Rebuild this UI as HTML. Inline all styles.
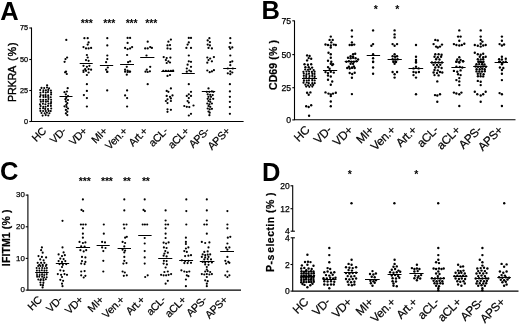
<!DOCTYPE html>
<html><head><meta charset="utf-8"><title>Figure</title>
<style>
html,body{margin:0;padding:0;background:#fff;}
body{width:520px;height:325px;overflow:hidden;}
svg{display:block;font-family:"Liberation Sans",sans-serif;fill:#000;filter:blur(0.35px);}
.pl{font-size:25.5px;font-weight:bold;}
.yl{font-size:10.8px;text-anchor:middle;letter-spacing:0.2px;stroke:#000;stroke-width:0.4;}
.yb{font-size:10.5px;font-weight:bold;text-anchor:middle;letter-spacing:0.12px;stroke:#000;stroke-width:0.2;}
.tk{font-size:8.5px;text-anchor:end;stroke:#000;stroke-width:0.25;}
.xl{font-size:11.8px;text-anchor:end;letter-spacing:-0.3px;stroke:#000;stroke-width:0.2;}
.st{font-size:10.5px;font-weight:bold;text-anchor:middle;letter-spacing:-0.2px;}
.ax{stroke:#000;stroke-width:1.1;fill:none;}
.md{stroke:#000;stroke-width:1;}
circle{fill:#000;}
</style></head><body>
<svg width="520" height="325" viewBox="0 0 520 325">
<rect x="0" y="0" width="520" height="325" fill="#fff"/>

<g>
<text class="pl" x="0.3" y="19.5">A</text>
<text class="yl" style="" transform="translate(15.9 71.7) rotate(-90)"><tspan style="letter-spacing:-0.25px">PRKRA</tspan><tspan dx="1.2" style="letter-spacing:0.9px"> (%)</tspan></text>
<path class="ax" d="M31.5 27.5V121.5H243.6"/>
<path class="ax" d="M29.3 28H31.5"/>
<text class="tk" style="font-size:7.3px" x="28.0" y="30.4">75</text>
<path class="ax" d="M29.3 59.5H31.5"/>
<text class="tk" style="font-size:7.3px" x="28.0" y="61.9">50</text>
<path class="ax" d="M29.3 90.5H31.5"/>
<text class="tk" style="font-size:7.3px" x="28.0" y="92.9">25</text>
<path class="ax" d="M29.3 121.5H31.5"/>
<text class="tk" style="font-size:7.3px" x="28.0" y="123.9">0</text>
<text class="xl" style="font-size:10.7px" transform="translate(46.7 131.8) rotate(-45)">HC</text>
<text class="xl" style="font-size:10.7px" transform="translate(66.7 131.8) rotate(-45)">VD-</text>
<text class="xl" style="font-size:10.7px" transform="translate(87.7 131.8) rotate(-45)">VD+</text>
<text class="xl" style="font-size:10.7px" transform="translate(107.9 131.8) rotate(-45)">MI+</text>
<text class="xl" style="font-size:10.7px" transform="translate(128.0 131.8) rotate(-45)">Ven.+</text>
<text class="xl" style="font-size:10.7px" transform="translate(148.2 131.8) rotate(-45)">Art.+</text>
<text class="xl" style="font-size:10.7px" transform="translate(168.5 131.8) rotate(-45)">aCL-</text>
<text class="xl" style="font-size:10.7px" transform="translate(189.7 131.8) rotate(-45)">aCL+</text>
<text class="xl" style="font-size:10.7px" transform="translate(210.0 131.8) rotate(-45)">APS-</text>
<text class="xl" style="font-size:10.7px" transform="translate(230.7 131.8) rotate(-45)">APS+</text>
<text class="st" x="86.7" y="27.3">***</text>
<text class="st" x="109.2" y="27.3">***</text>
<text class="st" x="131.5" y="27.3">***</text>
<text class="st" x="151.2" y="27.3">***</text>
<path class="md" d="M79.7 63.5H92.7"/>
<path class="md" d="M99.9 65.5H113.2"/>
<path class="md" d="M120.1 64.5H134.0"/>
<path class="md" d="M140.2 57.5H154.4"/>
<path class="md" d="M161.3 71.5H174.2"/>
<path class="md" d="M181.8 73.5H194.8"/>
<path class="md" d="M201.8 91.5H215.2"/>
<path class="md" d="M223.2 68.5H236.1"/>
<path class="md" d="M59.5 96.5H72.5"/>
<circle cx="47.1" cy="85.3" r="1.12"/><circle cx="67.7" cy="88.2" r="1.12"/><circle cx="66.9" cy="91.5" r="1.12"/><circle cx="64.5" cy="92.2" r="1.12"/><circle cx="65.9" cy="94.3" r="1.12"/><circle cx="68.0" cy="96.1" r="1.12"/><circle cx="66.3" cy="97.8" r="1.12"/><circle cx="65.4" cy="99.2" r="1.12"/><circle cx="68.0" cy="100.0" r="1.12"/><circle cx="65.9" cy="101.4" r="1.12"/><circle cx="67.3" cy="103.2" r="1.12"/><circle cx="66.3" cy="104.9" r="1.12"/><circle cx="64.5" cy="106.3" r="1.12"/><circle cx="66.6" cy="107.0" r="1.12"/><circle cx="68.0" cy="108.5" r="1.12"/><circle cx="65.9" cy="109.9" r="1.12"/><circle cx="67.3" cy="111.7" r="1.12"/><circle cx="65.9" cy="113.4" r="1.12"/><circle cx="67.3" cy="115.1" r="1.12"/><circle cx="66.3" cy="39.9" r="1.12"/><circle cx="67.1" cy="57.5" r="1.12"/><circle cx="65.5" cy="59.1" r="1.12"/><circle cx="64.6" cy="61.8" r="1.12"/><circle cx="66.0" cy="71.7" r="1.12"/><circle cx="65.1" cy="72.3" r="1.12"/><circle cx="66.8" cy="74.0" r="1.12"/><circle cx="84.4" cy="38.2" r="1.12"/><circle cx="87.7" cy="38.2" r="1.12"/><circle cx="88.6" cy="42.4" r="1.12"/><circle cx="87.7" cy="44.6" r="1.12"/><circle cx="83.5" cy="47.1" r="1.12"/><circle cx="86.0" cy="48.4" r="1.12"/><circle cx="88.6" cy="48.4" r="1.12"/><circle cx="91.1" cy="47.9" r="1.12"/><circle cx="86.9" cy="55.0" r="1.12"/><circle cx="87.7" cy="57.5" r="1.12"/><circle cx="86.0" cy="60.1" r="1.12"/><circle cx="88.6" cy="60.8" r="1.12"/><circle cx="83.5" cy="65.8" r="1.12"/><circle cx="86.9" cy="66.8" r="1.12"/><circle cx="89.4" cy="65.8" r="1.12"/><circle cx="85.2" cy="69.2" r="1.12"/><circle cx="88.6" cy="69.2" r="1.12"/><circle cx="91.1" cy="69.7" r="1.12"/><circle cx="83.5" cy="70.5" r="1.12"/><circle cx="83.5" cy="72.0" r="1.12"/><circle cx="86.0" cy="70.8" r="1.12"/><circle cx="88.6" cy="72.5" r="1.12"/><circle cx="86.9" cy="75.0" r="1.12"/><circle cx="86.9" cy="84.2" r="1.12"/><circle cx="86.9" cy="90.9" r="1.12"/><circle cx="83.9" cy="95.1" r="1.12"/><circle cx="86.9" cy="98.1" r="1.12"/><circle cx="86.9" cy="106.5" r="1.12"/><circle cx="107.3" cy="38.2" r="1.12"/><circle cx="107.3" cy="45.4" r="1.12"/><circle cx="107.3" cy="55.5" r="1.12"/><circle cx="107.3" cy="59.1" r="1.12"/><circle cx="106.1" cy="62.2" r="1.12"/><circle cx="107.8" cy="67.5" r="1.12"/><circle cx="106.1" cy="69.7" r="1.12"/><circle cx="107.3" cy="71.7" r="1.12"/><circle cx="107.2" cy="72.0" r="1.12"/><circle cx="107.2" cy="90.4" r="1.12"/><circle cx="127.6" cy="37.9" r="1.12"/><circle cx="130.1" cy="37.9" r="1.12"/><circle cx="127.6" cy="42.9" r="1.12"/><circle cx="125.1" cy="47.9" r="1.12"/><circle cx="127.6" cy="49.1" r="1.12"/><circle cx="130.1" cy="48.4" r="1.12"/><circle cx="132.1" cy="47.1" r="1.12"/><circle cx="127.1" cy="55.0" r="1.12"/><circle cx="130.1" cy="61.3" r="1.12"/><circle cx="128.1" cy="62.2" r="1.12"/><circle cx="126.8" cy="66.8" r="1.12"/><circle cx="125.1" cy="69.7" r="1.12"/><circle cx="127.6" cy="70.5" r="1.12"/><circle cx="129.3" cy="71.7" r="1.12"/><circle cx="125.1" cy="71.7" r="1.12"/><circle cx="127.6" cy="72.0" r="1.12"/><circle cx="130.1" cy="71.7" r="1.12"/><circle cx="126.8" cy="74.7" r="1.12"/><circle cx="127.1" cy="90.4" r="1.12"/><circle cx="125.1" cy="95.4" r="1.12"/><circle cx="127.1" cy="98.1" r="1.12"/><circle cx="127.1" cy="106.5" r="1.12"/><circle cx="147.7" cy="41.7" r="1.12"/><circle cx="150.2" cy="47.1" r="1.12"/><circle cx="147.7" cy="48.4" r="1.12"/><circle cx="145.2" cy="48.4" r="1.12"/><circle cx="151.9" cy="47.9" r="1.12"/><circle cx="146.5" cy="55.5" r="1.12"/><circle cx="150.2" cy="66.8" r="1.12"/><circle cx="146.8" cy="69.7" r="1.12"/><circle cx="145.5" cy="71.7" r="1.12"/><circle cx="147.7" cy="72.0" r="1.12"/><circle cx="149.9" cy="71.3" r="1.12"/><circle cx="147.7" cy="84.2" r="1.12"/><circle cx="170.9" cy="39.6" r="1.12"/><circle cx="168.4" cy="41.7" r="1.12"/><circle cx="167.5" cy="45.4" r="1.12"/><circle cx="170.0" cy="45.1" r="1.12"/><circle cx="167.5" cy="48.4" r="1.12"/><circle cx="170.4" cy="48.8" r="1.12"/><circle cx="163.7" cy="57.1" r="1.12"/><circle cx="166.7" cy="58.0" r="1.12"/><circle cx="170.4" cy="57.6" r="1.12"/><circle cx="165.9" cy="60.1" r="1.12"/><circle cx="168.4" cy="61.3" r="1.12"/><circle cx="166.7" cy="63.0" r="1.12"/><circle cx="170.0" cy="62.5" r="1.12"/><circle cx="163.3" cy="70.9" r="1.12"/><circle cx="165.9" cy="70.9" r="1.12"/><circle cx="168.4" cy="70.9" r="1.12"/><circle cx="170.9" cy="70.9" r="1.12"/><circle cx="173.1" cy="70.5" r="1.12"/><circle cx="167.5" cy="75.9" r="1.12"/><circle cx="170.0" cy="75.0" r="1.12"/><circle cx="170.9" cy="88.4" r="1.12"/><circle cx="166.7" cy="90.9" r="1.12"/><circle cx="168.4" cy="91.8" r="1.12"/><circle cx="166.7" cy="95.9" r="1.12"/><circle cx="170.0" cy="96.8" r="1.12"/><circle cx="172.5" cy="95.4" r="1.12"/><circle cx="167.5" cy="99.3" r="1.12"/><circle cx="170.9" cy="98.4" r="1.12"/><circle cx="165.9" cy="101.0" r="1.12"/><circle cx="170.9" cy="101.0" r="1.12"/><circle cx="167.5" cy="103.1" r="1.12"/><circle cx="167.5" cy="109.3" r="1.12"/><circle cx="170.9" cy="109.8" r="1.12"/><circle cx="167.5" cy="111.8" r="1.12"/><circle cx="188.8" cy="37.9" r="1.12"/><circle cx="191.0" cy="37.9" r="1.12"/><circle cx="188.8" cy="42.4" r="1.12"/><circle cx="187.6" cy="44.6" r="1.12"/><circle cx="186.4" cy="47.9" r="1.12"/><circle cx="191.0" cy="47.9" r="1.12"/><circle cx="188.8" cy="55.5" r="1.12"/><circle cx="188.8" cy="61.3" r="1.12"/><circle cx="191.0" cy="61.8" r="1.12"/><circle cx="187.6" cy="64.7" r="1.12"/><circle cx="191.0" cy="66.8" r="1.12"/><circle cx="186.8" cy="68.5" r="1.12"/><circle cx="189.3" cy="70.5" r="1.12"/><circle cx="186.8" cy="71.7" r="1.12"/><circle cx="191.0" cy="71.3" r="1.12"/><circle cx="188.8" cy="84.2" r="1.12"/><circle cx="191.0" cy="91.8" r="1.12"/><circle cx="188.8" cy="94.3" r="1.12"/><circle cx="186.8" cy="95.9" r="1.12"/><circle cx="191.0" cy="95.9" r="1.12"/><circle cx="188.8" cy="98.1" r="1.12"/><circle cx="187.6" cy="101.0" r="1.12"/><circle cx="188.8" cy="102.6" r="1.12"/><circle cx="184.3" cy="106.0" r="1.12"/><circle cx="186.8" cy="106.8" r="1.12"/><circle cx="189.3" cy="107.1" r="1.12"/><circle cx="193.5" cy="105.5" r="1.12"/><circle cx="191.0" cy="113.8" r="1.12"/><circle cx="188.8" cy="115.5" r="1.12"/><circle cx="209.4" cy="38.2" r="1.12"/><circle cx="207.7" cy="40.4" r="1.12"/><circle cx="209.9" cy="42.1" r="1.12"/><circle cx="207.7" cy="44.6" r="1.12"/><circle cx="209.9" cy="45.4" r="1.12"/><circle cx="208.5" cy="47.9" r="1.12"/><circle cx="211.9" cy="48.4" r="1.12"/><circle cx="207.3" cy="57.5" r="1.12"/><circle cx="210.2" cy="58.5" r="1.12"/><circle cx="213.9" cy="57.1" r="1.12"/><circle cx="208.5" cy="60.1" r="1.12"/><circle cx="211.9" cy="61.3" r="1.12"/><circle cx="207.3" cy="62.7" r="1.12"/><circle cx="207.3" cy="70.5" r="1.12"/><circle cx="209.7" cy="72.2" r="1.12"/><circle cx="211.9" cy="71.4" r="1.12"/><circle cx="213.9" cy="70.2" r="1.12"/><circle cx="208.5" cy="88.4" r="1.12"/><circle cx="206.8" cy="91.8" r="1.12"/><circle cx="209.4" cy="91.8" r="1.12"/><circle cx="211.9" cy="91.4" r="1.12"/><circle cx="213.5" cy="91.8" r="1.12"/><circle cx="207.7" cy="94.3" r="1.12"/><circle cx="210.2" cy="94.8" r="1.12"/><circle cx="212.7" cy="95.1" r="1.12"/><circle cx="208.5" cy="96.8" r="1.12"/><circle cx="211.0" cy="96.8" r="1.12"/><circle cx="207.7" cy="98.8" r="1.12"/><circle cx="210.2" cy="99.3" r="1.12"/><circle cx="213.2" cy="98.8" r="1.12"/><circle cx="208.5" cy="101.0" r="1.12"/><circle cx="210.2" cy="101.8" r="1.12"/><circle cx="207.3" cy="103.5" r="1.12"/><circle cx="209.4" cy="104.3" r="1.12"/><circle cx="211.9" cy="103.5" r="1.12"/><circle cx="208.5" cy="106.0" r="1.12"/><circle cx="210.2" cy="106.8" r="1.12"/><circle cx="207.7" cy="108.5" r="1.12"/><circle cx="209.7" cy="109.3" r="1.12"/><circle cx="211.9" cy="108.8" r="1.12"/><circle cx="208.5" cy="111.5" r="1.12"/><circle cx="209.7" cy="112.7" r="1.12"/><circle cx="209.4" cy="115.2" r="1.12"/><circle cx="230.3" cy="38.2" r="1.12"/><circle cx="230.3" cy="42.9" r="1.12"/><circle cx="229.4" cy="47.1" r="1.12"/><circle cx="232.3" cy="47.4" r="1.12"/><circle cx="230.3" cy="48.8" r="1.12"/><circle cx="230.3" cy="55.5" r="1.12"/><circle cx="230.3" cy="62.2" r="1.12"/><circle cx="232.3" cy="61.3" r="1.12"/><circle cx="230.3" cy="65.2" r="1.12"/><circle cx="227.8" cy="68.5" r="1.12"/><circle cx="232.8" cy="68.5" r="1.12"/><circle cx="230.3" cy="71.4" r="1.12"/><circle cx="227.8" cy="73.3" r="1.12"/><circle cx="230.3" cy="74.2" r="1.12"/><circle cx="232.3" cy="72.5" r="1.12"/><circle cx="229.9" cy="84.2" r="1.12"/><circle cx="229.9" cy="91.4" r="1.12"/><circle cx="229.9" cy="96.8" r="1.12"/><circle cx="229.9" cy="101.8" r="1.12"/><circle cx="229.9" cy="107.1" r="1.12"/><circle cx="229.9" cy="113.8" r="1.12"/><circle cx="41.5" cy="87.9" r="1.05"/><circle cx="44.2" cy="88.0" r="1.05"/><circle cx="47.0" cy="87.5" r="1.05"/><circle cx="49.1" cy="88.2" r="1.05"/><circle cx="40.2" cy="90.0" r="1.05"/><circle cx="43.4" cy="90.2" r="1.05"/><circle cx="45.9" cy="90.2" r="1.05"/><circle cx="48.3" cy="89.9" r="1.05"/><circle cx="50.9" cy="90.5" r="1.05"/><circle cx="40.4" cy="92.7" r="1.05"/><circle cx="43.2" cy="92.1" r="1.05"/><circle cx="45.8" cy="92.6" r="1.05"/><circle cx="48.0" cy="92.1" r="1.05"/><circle cx="51.1" cy="92.5" r="1.05"/><circle cx="40.6" cy="95.1" r="1.05"/><circle cx="43.2" cy="95.2" r="1.05"/><circle cx="45.5" cy="95.1" r="1.05"/><circle cx="48.2" cy="95.2" r="1.05"/><circle cx="51.1" cy="94.4" r="1.05"/><circle cx="40.1" cy="96.8" r="1.05"/><circle cx="43.4" cy="97.0" r="1.05"/><circle cx="45.7" cy="96.9" r="1.05"/><circle cx="48.2" cy="97.0" r="1.05"/><circle cx="50.7" cy="97.2" r="1.05"/><circle cx="40.5" cy="99.8" r="1.05"/><circle cx="43.2" cy="99.8" r="1.05"/><circle cx="45.9" cy="99.8" r="1.05"/><circle cx="48.4" cy="99.1" r="1.05"/><circle cx="51.1" cy="99.8" r="1.05"/><circle cx="40.8" cy="101.8" r="1.05"/><circle cx="43.2" cy="101.4" r="1.05"/><circle cx="45.9" cy="101.8" r="1.05"/><circle cx="48.0" cy="101.3" r="1.05"/><circle cx="51.1" cy="102.1" r="1.05"/><circle cx="40.0" cy="104.3" r="1.05"/><circle cx="42.9" cy="103.7" r="1.05"/><circle cx="45.4" cy="104.2" r="1.05"/><circle cx="48.5" cy="103.6" r="1.05"/><circle cx="50.9" cy="103.6" r="1.05"/><circle cx="40.6" cy="106.1" r="1.05"/><circle cx="43.3" cy="106.7" r="1.05"/><circle cx="45.6" cy="106.7" r="1.05"/><circle cx="48.0" cy="105.9" r="1.05"/><circle cx="50.9" cy="105.9" r="1.05"/><circle cx="40.1" cy="108.5" r="1.05"/><circle cx="43.1" cy="108.3" r="1.05"/><circle cx="45.2" cy="108.9" r="1.05"/><circle cx="48.0" cy="109.0" r="1.05"/><circle cx="51.2" cy="108.5" r="1.05"/><circle cx="40.4" cy="110.9" r="1.05"/><circle cx="43.1" cy="111.0" r="1.05"/><circle cx="45.7" cy="111.0" r="1.05"/><circle cx="48.6" cy="110.9" r="1.05"/><circle cx="50.7" cy="111.1" r="1.05"/><circle cx="41.5" cy="113.0" r="1.05"/><circle cx="44.7" cy="113.2" r="1.05"/><circle cx="46.9" cy="112.8" r="1.05"/><circle cx="49.4" cy="113.3" r="1.05"/><circle cx="42.6" cy="115.6" r="1.05"/><circle cx="45.7" cy="115.1" r="1.05"/><circle cx="48.3" cy="115.5" r="1.05"/>
</g>
<g>
<text class="pl" x="261.6" y="18.9">B</text>
<text class="yb" style="" transform="translate(277 65) rotate(-90)">CD69 (% )</text>
<path class="ax" d="M294.5 20.5V119.7H515.5"/>
<path class="ax" d="M292.3 20.8H294.5"/>
<text class="tk" style="font-size:8.7px" x="291.2" y="23.7">75</text>
<path class="ax" d="M292.3 54.6H294.5"/>
<text class="tk" style="font-size:8.7px" x="291.2" y="57.5">50</text>
<path class="ax" d="M292.3 87.7H294.5"/>
<text class="tk" style="font-size:8.7px" x="291.2" y="90.6">25</text>
<path class="ax" d="M292.3 119.9H294.5"/>
<text class="tk" style="font-size:8.7px" x="291.2" y="122.8">0</text>
<text class="xl" style="font-size:11.8px" transform="translate(310.4 130.8) rotate(-45)">HC</text>
<text class="xl" style="font-size:11.8px" transform="translate(332.3 130.8) rotate(-45)">VD-</text>
<text class="xl" style="font-size:11.8px" transform="translate(353.4 130.8) rotate(-45)">VD+</text>
<text class="xl" style="font-size:11.8px" transform="translate(374.5 130.8) rotate(-45)">MI+</text>
<text class="xl" style="font-size:11.8px" transform="translate(396.1 130.8) rotate(-45)">Ven.+</text>
<text class="xl" style="font-size:11.8px" transform="translate(417.5 130.8) rotate(-45)">Art.+</text>
<text class="xl" style="font-size:11.8px" transform="translate(439.0 130.8) rotate(-45)">aCL-</text>
<text class="xl" style="font-size:11.8px" transform="translate(460.8 130.8) rotate(-45)">aCL+</text>
<text class="xl" style="font-size:11.8px" transform="translate(482.2 130.8) rotate(-45)">APS-</text>
<text class="xl" style="font-size:11.8px" transform="translate(503.4 130.8) rotate(-45)">APS+</text>
<text class="st" x="375.6" y="12.6">*</text>
<text class="st" x="397.1" y="12.6">*</text>
<path class="md" d="M302.0 78.5H317.1"/>
<path class="md" d="M323.0 70.5H337.2"/>
<path class="md" d="M344.7 61.5H358.1"/>
<path class="md" d="M366.7 55.5H380.1"/>
<path class="md" d="M387.6 59.5H401.8"/>
<path class="md" d="M408.5 68.5H423.2"/>
<path class="md" d="M430.3 62.5H443.7"/>
<path class="md" d="M451.4 67.5H465.6"/>
<path class="md" d="M473.2 66.5H487.4"/>
<path class="md" d="M494.6 62.5H508.0"/>
<circle cx="307.1" cy="55.4" r="1.18"/><circle cx="309.6" cy="55.9" r="1.18"/><circle cx="308.7" cy="58.1" r="1.18"/><circle cx="311.2" cy="58.7" r="1.18"/><circle cx="307.1" cy="60.4" r="1.18"/><circle cx="304.5" cy="64.3" r="1.18"/><circle cx="307.9" cy="64.8" r="1.18"/><circle cx="311.2" cy="64.3" r="1.18"/><circle cx="305.4" cy="67.3" r="1.18"/><circle cx="308.7" cy="67.3" r="1.18"/><circle cx="312.1" cy="67.6" r="1.18"/><circle cx="307.1" cy="92.8" r="1.18"/><circle cx="310.4" cy="92.4" r="1.18"/><circle cx="308.7" cy="94.8" r="1.18"/><circle cx="306.2" cy="106.2" r="1.18"/><circle cx="308.7" cy="107.0" r="1.18"/><circle cx="311.2" cy="105.3" r="1.18"/><circle cx="309.1" cy="115.7" r="1.18"/><circle cx="330.8" cy="36.6" r="1.18"/><circle cx="329.6" cy="39.9" r="1.18"/><circle cx="332.7" cy="39.9" r="1.18"/><circle cx="331.3" cy="42.4" r="1.18"/><circle cx="325.5" cy="44.5" r="1.18"/><circle cx="328.0" cy="45.0" r="1.18"/><circle cx="330.8" cy="45.5" r="1.18"/><circle cx="333.8" cy="44.6" r="1.18"/><circle cx="335.8" cy="45.0" r="1.18"/><circle cx="330.8" cy="47.5" r="1.18"/><circle cx="328.5" cy="52.8" r="1.18"/><circle cx="330.8" cy="54.2" r="1.18"/><circle cx="330.8" cy="57.8" r="1.18"/><circle cx="328.0" cy="60.8" r="1.18"/><circle cx="331.3" cy="61.7" r="1.18"/><circle cx="330.8" cy="63.7" r="1.18"/><circle cx="333.0" cy="64.2" r="1.18"/><circle cx="328.0" cy="67.1" r="1.18"/><circle cx="332.2" cy="65.1" r="1.18"/><circle cx="329.6" cy="68.8" r="1.18"/><circle cx="325.5" cy="72.1" r="1.18"/><circle cx="328.0" cy="73.1" r="1.18"/><circle cx="330.8" cy="71.8" r="1.18"/><circle cx="333.8" cy="72.6" r="1.18"/><circle cx="328.0" cy="75.5" r="1.18"/><circle cx="330.8" cy="76.5" r="1.18"/><circle cx="328.0" cy="79.8" r="1.18"/><circle cx="332.2" cy="81.5" r="1.18"/><circle cx="330.8" cy="84.8" r="1.18"/><circle cx="325.5" cy="92.4" r="1.18"/><circle cx="328.5" cy="93.6" r="1.18"/><circle cx="330.8" cy="94.4" r="1.18"/><circle cx="333.0" cy="93.6" r="1.18"/><circle cx="335.8" cy="92.8" r="1.18"/><circle cx="330.8" cy="96.1" r="1.18"/><circle cx="330.8" cy="101.5" r="1.18"/><circle cx="330.8" cy="106.2" r="1.18"/><circle cx="351.9" cy="30.4" r="1.18"/><circle cx="351.9" cy="36.6" r="1.18"/><circle cx="351.9" cy="42.4" r="1.18"/><circle cx="349.7" cy="45.0" r="1.18"/><circle cx="351.9" cy="45.0" r="1.18"/><circle cx="354.2" cy="44.6" r="1.18"/><circle cx="353.1" cy="54.2" r="1.18"/><circle cx="355.2" cy="53.8" r="1.18"/><circle cx="350.6" cy="56.2" r="1.18"/><circle cx="353.1" cy="56.7" r="1.18"/><circle cx="348.0" cy="57.8" r="1.18"/><circle cx="350.6" cy="58.3" r="1.18"/><circle cx="353.1" cy="57.8" r="1.18"/><circle cx="355.6" cy="58.3" r="1.18"/><circle cx="346.4" cy="61.7" r="1.18"/><circle cx="348.9" cy="61.3" r="1.18"/><circle cx="351.4" cy="61.7" r="1.18"/><circle cx="353.9" cy="61.7" r="1.18"/><circle cx="356.4" cy="61.3" r="1.18"/><circle cx="358.1" cy="59.5" r="1.18"/><circle cx="350.6" cy="63.7" r="1.18"/><circle cx="353.1" cy="63.7" r="1.18"/><circle cx="347.2" cy="68.0" r="1.18"/><circle cx="349.7" cy="68.5" r="1.18"/><circle cx="352.2" cy="67.7" r="1.18"/><circle cx="354.7" cy="68.0" r="1.18"/><circle cx="349.7" cy="73.0" r="1.18"/><circle cx="352.2" cy="74.0" r="1.18"/><circle cx="354.7" cy="72.7" r="1.18"/><circle cx="351.9" cy="77.7" r="1.18"/><circle cx="351.9" cy="94.1" r="1.18"/><circle cx="348.9" cy="66.8" r="1.18"/><circle cx="351.9" cy="67.6" r="1.18"/><circle cx="353.9" cy="66.4" r="1.18"/><circle cx="373.1" cy="30.4" r="1.18"/><circle cx="373.1" cy="44.1" r="1.18"/><circle cx="371.4" cy="45.8" r="1.18"/><circle cx="373.1" cy="54.2" r="1.18"/><circle cx="373.1" cy="58.3" r="1.18"/><circle cx="373.1" cy="61.7" r="1.18"/><circle cx="373.1" cy="62.0" r="1.18"/><circle cx="373.1" cy="67.5" r="1.18"/><circle cx="373.1" cy="73.7" r="1.18"/><circle cx="394.6" cy="30.4" r="1.18"/><circle cx="394.6" cy="34.4" r="1.18"/><circle cx="394.6" cy="37.4" r="1.18"/><circle cx="392.6" cy="44.1" r="1.18"/><circle cx="397.1" cy="44.1" r="1.18"/><circle cx="394.6" cy="45.8" r="1.18"/><circle cx="394.6" cy="54.2" r="1.18"/><circle cx="392.6" cy="56.2" r="1.18"/><circle cx="395.1" cy="56.7" r="1.18"/><circle cx="397.1" cy="56.2" r="1.18"/><circle cx="392.6" cy="59.2" r="1.18"/><circle cx="395.1" cy="59.5" r="1.18"/><circle cx="397.6" cy="59.2" r="1.18"/><circle cx="393.5" cy="61.7" r="1.18"/><circle cx="396.0" cy="61.7" r="1.18"/><circle cx="394.6" cy="63.7" r="1.18"/><circle cx="393.5" cy="61.7" r="1.18"/><circle cx="396.0" cy="62.0" r="1.18"/><circle cx="392.6" cy="72.0" r="1.18"/><circle cx="397.1" cy="72.0" r="1.18"/><circle cx="394.6" cy="74.2" r="1.18"/><circle cx="394.6" cy="77.6" r="1.18"/><circle cx="416.0" cy="45.0" r="1.18"/><circle cx="416.0" cy="56.7" r="1.18"/><circle cx="416.0" cy="60.0" r="1.18"/><circle cx="416.0" cy="62.5" r="1.18"/><circle cx="416.0" cy="62.0" r="1.18"/><circle cx="416.0" cy="66.7" r="1.18"/><circle cx="413.5" cy="68.4" r="1.18"/><circle cx="418.6" cy="68.4" r="1.18"/><circle cx="413.5" cy="72.0" r="1.18"/><circle cx="416.0" cy="72.5" r="1.18"/><circle cx="418.9" cy="72.0" r="1.18"/><circle cx="413.5" cy="75.1" r="1.18"/><circle cx="416.0" cy="77.6" r="1.18"/><circle cx="416.0" cy="94.3" r="1.18"/><circle cx="435.3" cy="39.9" r="1.18"/><circle cx="437.8" cy="40.4" r="1.18"/><circle cx="433.6" cy="44.1" r="1.18"/><circle cx="442.0" cy="44.6" r="1.18"/><circle cx="436.1" cy="46.6" r="1.18"/><circle cx="440.0" cy="46.6" r="1.18"/><circle cx="437.8" cy="47.5" r="1.18"/><circle cx="435.3" cy="54.2" r="1.18"/><circle cx="438.6" cy="54.2" r="1.18"/><circle cx="441.6" cy="54.7" r="1.18"/><circle cx="434.5" cy="56.7" r="1.18"/><circle cx="437.8" cy="57.2" r="1.18"/><circle cx="441.1" cy="56.7" r="1.18"/><circle cx="436.1" cy="59.2" r="1.18"/><circle cx="439.5" cy="59.5" r="1.18"/><circle cx="431.9" cy="62.5" r="1.18"/><circle cx="435.3" cy="62.5" r="1.18"/><circle cx="438.6" cy="62.5" r="1.18"/><circle cx="442.0" cy="62.5" r="1.18"/><circle cx="433.6" cy="64.7" r="1.18"/><circle cx="437.0" cy="65.0" r="1.18"/><circle cx="440.3" cy="64.7" r="1.18"/><circle cx="435.3" cy="67.5" r="1.18"/><circle cx="438.6" cy="67.0" r="1.18"/><circle cx="441.6" cy="68.0" r="1.18"/><circle cx="434.5" cy="70.0" r="1.18"/><circle cx="437.8" cy="70.4" r="1.18"/><circle cx="433.6" cy="72.5" r="1.18"/><circle cx="437.0" cy="73.1" r="1.18"/><circle cx="440.0" cy="72.0" r="1.18"/><circle cx="442.3" cy="72.5" r="1.18"/><circle cx="434.5" cy="75.1" r="1.18"/><circle cx="438.6" cy="75.4" r="1.18"/><circle cx="437.3" cy="81.4" r="1.18"/><circle cx="435.0" cy="95.1" r="1.18"/><circle cx="437.3" cy="95.5" r="1.18"/><circle cx="440.0" cy="94.3" r="1.18"/><circle cx="437.3" cy="101.8" r="1.18"/><circle cx="459.3" cy="30.4" r="1.18"/><circle cx="458.1" cy="36.6" r="1.18"/><circle cx="460.6" cy="36.6" r="1.18"/><circle cx="459.3" cy="40.8" r="1.18"/><circle cx="453.9" cy="44.1" r="1.18"/><circle cx="456.4" cy="45.0" r="1.18"/><circle cx="459.3" cy="45.5" r="1.18"/><circle cx="461.8" cy="45.0" r="1.18"/><circle cx="464.3" cy="43.8" r="1.18"/><circle cx="459.3" cy="57.2" r="1.18"/><circle cx="457.3" cy="59.5" r="1.18"/><circle cx="460.6" cy="60.0" r="1.18"/><circle cx="456.4" cy="61.7" r="1.18"/><circle cx="459.3" cy="62.5" r="1.18"/><circle cx="463.1" cy="61.3" r="1.18"/><circle cx="456.4" cy="61.7" r="1.18"/><circle cx="459.3" cy="62.0" r="1.18"/><circle cx="463.1" cy="61.3" r="1.18"/><circle cx="456.4" cy="66.7" r="1.18"/><circle cx="459.8" cy="67.0" r="1.18"/><circle cx="462.3" cy="67.5" r="1.18"/><circle cx="453.9" cy="70.9" r="1.18"/><circle cx="457.3" cy="71.7" r="1.18"/><circle cx="460.6" cy="70.4" r="1.18"/><circle cx="458.1" cy="74.2" r="1.18"/><circle cx="460.6" cy="75.1" r="1.18"/><circle cx="459.3" cy="78.1" r="1.18"/><circle cx="456.4" cy="80.1" r="1.18"/><circle cx="459.3" cy="81.4" r="1.18"/><circle cx="459.3" cy="85.1" r="1.18"/><circle cx="453.9" cy="92.6" r="1.18"/><circle cx="456.4" cy="93.5" r="1.18"/><circle cx="459.3" cy="94.3" r="1.18"/><circle cx="461.4" cy="92.6" r="1.18"/><circle cx="459.3" cy="106.0" r="1.18"/><circle cx="480.7" cy="30.4" r="1.18"/><circle cx="480.7" cy="36.6" r="1.18"/><circle cx="480.7" cy="39.9" r="1.18"/><circle cx="482.4" cy="41.6" r="1.18"/><circle cx="474.8" cy="45.0" r="1.18"/><circle cx="477.8" cy="45.8" r="1.18"/><circle cx="480.7" cy="46.6" r="1.18"/><circle cx="483.2" cy="45.5" r="1.18"/><circle cx="485.7" cy="45.0" r="1.18"/><circle cx="480.7" cy="43.8" r="1.18"/><circle cx="474.8" cy="52.8" r="1.18"/><circle cx="477.8" cy="54.2" r="1.18"/><circle cx="480.7" cy="54.7" r="1.18"/><circle cx="483.2" cy="53.8" r="1.18"/><circle cx="479.8" cy="56.7" r="1.18"/><circle cx="483.2" cy="57.2" r="1.18"/><circle cx="485.7" cy="56.7" r="1.18"/><circle cx="477.8" cy="59.2" r="1.18"/><circle cx="480.7" cy="59.5" r="1.18"/><circle cx="483.2" cy="59.2" r="1.18"/><circle cx="479.0" cy="61.7" r="1.18"/><circle cx="482.4" cy="62.5" r="1.18"/><circle cx="478.3" cy="61.8" r="1.18"/><circle cx="481.0" cy="61.9" r="1.18"/><circle cx="483.5" cy="61.7" r="1.18"/><circle cx="476.5" cy="64.3" r="1.18"/><circle cx="479.2" cy="64.1" r="1.18"/><circle cx="482.1" cy="64.2" r="1.18"/><circle cx="484.5" cy="64.5" r="1.18"/><circle cx="475.6" cy="66.5" r="1.18"/><circle cx="478.0" cy="66.8" r="1.18"/><circle cx="480.7" cy="66.8" r="1.18"/><circle cx="483.2" cy="66.4" r="1.18"/><circle cx="485.9" cy="66.8" r="1.18"/><circle cx="476.6" cy="69.2" r="1.18"/><circle cx="479.7" cy="69.2" r="1.18"/><circle cx="482.2" cy="68.7" r="1.18"/><circle cx="484.7" cy="69.2" r="1.18"/><circle cx="476.5" cy="71.4" r="1.18"/><circle cx="479.3" cy="71.5" r="1.18"/><circle cx="482.0" cy="71.5" r="1.18"/><circle cx="484.8" cy="71.2" r="1.18"/><circle cx="477.8" cy="73.8" r="1.18"/><circle cx="480.5" cy="73.7" r="1.18"/><circle cx="483.6" cy="74.2" r="1.18"/><circle cx="477.9" cy="76.3" r="1.18"/><circle cx="480.6" cy="76.2" r="1.18"/><circle cx="483.2" cy="76.4" r="1.18"/><circle cx="477.8" cy="80.9" r="1.18"/><circle cx="480.7" cy="81.8" r="1.18"/><circle cx="480.7" cy="85.1" r="1.18"/><circle cx="474.8" cy="91.8" r="1.18"/><circle cx="477.3" cy="94.3" r="1.18"/><circle cx="480.7" cy="95.5" r="1.18"/><circle cx="483.2" cy="94.3" r="1.18"/><circle cx="485.7" cy="91.8" r="1.18"/><circle cx="480.7" cy="101.8" r="1.18"/><circle cx="501.9" cy="36.6" r="1.18"/><circle cx="501.9" cy="40.8" r="1.18"/><circle cx="499.6" cy="44.1" r="1.18"/><circle cx="501.9" cy="45.5" r="1.18"/><circle cx="504.1" cy="44.5" r="1.18"/><circle cx="501.9" cy="56.7" r="1.18"/><circle cx="499.1" cy="59.2" r="1.18"/><circle cx="501.9" cy="59.5" r="1.18"/><circle cx="505.8" cy="58.8" r="1.18"/><circle cx="499.9" cy="61.7" r="1.18"/><circle cx="503.3" cy="62.2" r="1.18"/><circle cx="501.9" cy="64.2" r="1.18"/><circle cx="499.1" cy="62.0" r="1.18"/><circle cx="501.9" cy="63.0" r="1.18"/><circle cx="505.8" cy="61.7" r="1.18"/><circle cx="499.9" cy="67.5" r="1.18"/><circle cx="503.3" cy="68.0" r="1.18"/><circle cx="501.9" cy="70.0" r="1.18"/><circle cx="501.9" cy="73.7" r="1.18"/><circle cx="501.9" cy="80.1" r="1.18"/><circle cx="499.6" cy="93.1" r="1.18"/><circle cx="501.9" cy="94.3" r="1.18"/><circle cx="501.9" cy="106.0" r="1.18"/><circle cx="305.2" cy="69.5" r="1.1"/><circle cx="308.0" cy="69.8" r="1.1"/><circle cx="310.2" cy="69.2" r="1.1"/><circle cx="313.6" cy="70.0" r="1.1"/><circle cx="303.4" cy="71.8" r="1.1"/><circle cx="306.5" cy="71.6" r="1.1"/><circle cx="309.1" cy="71.6" r="1.1"/><circle cx="311.9" cy="71.9" r="1.1"/><circle cx="314.6" cy="71.7" r="1.1"/><circle cx="303.8" cy="73.6" r="1.1"/><circle cx="306.5" cy="74.2" r="1.1"/><circle cx="309.0" cy="73.8" r="1.1"/><circle cx="312.3" cy="73.8" r="1.1"/><circle cx="314.5" cy="73.9" r="1.1"/><circle cx="303.8" cy="75.8" r="1.1"/><circle cx="306.2" cy="76.1" r="1.1"/><circle cx="309.5" cy="76.1" r="1.1"/><circle cx="312.3" cy="75.9" r="1.1"/><circle cx="314.7" cy="76.3" r="1.1"/><circle cx="303.9" cy="78.4" r="1.1"/><circle cx="306.2" cy="78.1" r="1.1"/><circle cx="309.2" cy="78.1" r="1.1"/><circle cx="312.3" cy="78.7" r="1.1"/><circle cx="314.5" cy="78.2" r="1.1"/><circle cx="303.9" cy="80.7" r="1.1"/><circle cx="306.7" cy="80.5" r="1.1"/><circle cx="308.9" cy="80.4" r="1.1"/><circle cx="312.3" cy="80.4" r="1.1"/><circle cx="314.7" cy="80.5" r="1.1"/><circle cx="303.5" cy="82.7" r="1.1"/><circle cx="306.8" cy="82.5" r="1.1"/><circle cx="308.8" cy="83.2" r="1.1"/><circle cx="312.3" cy="83.2" r="1.1"/><circle cx="314.7" cy="83.2" r="1.1"/><circle cx="305.4" cy="84.7" r="1.1"/><circle cx="308.0" cy="85.3" r="1.1"/><circle cx="310.7" cy="85.0" r="1.1"/><circle cx="313.2" cy="84.9" r="1.1"/><circle cx="306.2" cy="86.6" r="1.1"/><circle cx="309.3" cy="86.8" r="1.1"/><circle cx="312.3" cy="86.6" r="1.1"/>
</g>
<g>
<text class="pl" x="0" y="180.3">C</text>
<text class="yb" style="" transform="translate(10.3 237.8) rotate(-90)">IFITM1 (% )</text>
<path class="ax" d="M27.9 194.6V290.1H241"/>
<path class="ax" d="M25.7 195.1H27.9"/>
<text class="tk" style="font-size:7.9px" x="24.9" y="197.3">30</text>
<path class="ax" d="M25.7 226.8H27.9"/>
<text class="tk" style="font-size:7.9px" x="24.9" y="229.0">20</text>
<path class="ax" d="M25.7 258.4H27.9"/>
<text class="tk" style="font-size:7.9px" x="24.9" y="260.6">10</text>
<path class="ax" d="M25.7 290.1H27.9"/>
<text class="tk" style="font-size:7.9px" x="24.9" y="292.3">0</text>
<text class="xl" style="font-size:10.7px" transform="translate(42.6 300.5) rotate(-45)">HC</text>
<text class="xl" style="font-size:10.7px" transform="translate(63.0 300.5) rotate(-45)">VD-</text>
<text class="xl" style="font-size:10.7px" transform="translate(83.60000000000001 300.5) rotate(-45)">VD+</text>
<text class="xl" style="font-size:10.7px" transform="translate(104.3 300.5) rotate(-45)">MI+</text>
<text class="xl" style="font-size:10.7px" transform="translate(125.0 300.5) rotate(-45)">Ven.+</text>
<text class="xl" style="font-size:10.7px" transform="translate(145.39999999999998 300.5) rotate(-45)">Art.+</text>
<text class="xl" style="font-size:10.7px" transform="translate(166.39999999999998 300.5) rotate(-45)">aCL-</text>
<text class="xl" style="font-size:10.7px" transform="translate(186.79999999999998 300.5) rotate(-45)">aCL+</text>
<text class="xl" style="font-size:10.7px" transform="translate(207.5 300.5) rotate(-45)">APS-</text>
<text class="xl" style="font-size:10.7px" transform="translate(228.1 300.5) rotate(-45)">APS+</text>
<text class="st" x="84.7" y="184.9">***</text>
<text class="st" x="106.9" y="184.9">***</text>
<text class="st" x="126.8" y="184.9">**</text>
<text class="st" x="145.8" y="184.9">**</text>
<path class="md" d="M35.2 272.5H48.6"/>
<path class="md" d="M55.8 263.5H69.2"/>
<path class="md" d="M75.9 247.5H90.1"/>
<path class="md" d="M96.6 245.5H109.7"/>
<path class="md" d="M117.6 248.5H131.0"/>
<path class="md" d="M138.2 235.5H151.6"/>
<path class="md" d="M158.2 258.5H172.3"/>
<path class="md" d="M179.2 260.5H193.1"/>
<path class="md" d="M199.8 261.5H214.4"/>
<path class="md" d="M220.2 251.5H234.0"/>
<circle cx="41.9" cy="247.4" r="1.08"/><circle cx="41.1" cy="250.2" r="1.08"/><circle cx="42.7" cy="252.7" r="1.08"/><circle cx="38.5" cy="256.1" r="1.08"/><circle cx="41.9" cy="256.9" r="1.08"/><circle cx="46.1" cy="257.4" r="1.08"/><circle cx="40.2" cy="259.4" r="1.08"/><circle cx="43.6" cy="260.3" r="1.08"/><circle cx="37.7" cy="262.8" r="1.08"/><circle cx="41.1" cy="262.8" r="1.08"/><circle cx="44.4" cy="262.8" r="1.08"/><circle cx="39.4" cy="264.8" r="1.08"/><circle cx="42.7" cy="264.8" r="1.08"/><circle cx="46.4" cy="264.8" r="1.08"/><circle cx="40.5" cy="280.2" r="1.08"/><circle cx="43.5" cy="280.5" r="1.08"/><circle cx="40.4" cy="282.5" r="1.08"/><circle cx="43.4" cy="282.8" r="1.08"/><circle cx="40.7" cy="284.9" r="1.08"/><circle cx="43" cy="285.2" r="1.08"/><circle cx="42.6" cy="287.4" r="1.08"/><circle cx="62.5" cy="220.8" r="1.08"/><circle cx="62.5" cy="247.4" r="1.08"/><circle cx="63.6" cy="252.4" r="1.08"/><circle cx="58.6" cy="254.4" r="1.08"/><circle cx="62.0" cy="256.1" r="1.08"/><circle cx="64.8" cy="255.2" r="1.08"/><circle cx="60.3" cy="258.6" r="1.08"/><circle cx="63.6" cy="259.1" r="1.08"/><circle cx="58.6" cy="261.1" r="1.08"/><circle cx="62.0" cy="261.9" r="1.08"/><circle cx="65.3" cy="261.1" r="1.08"/><circle cx="59.5" cy="264.1" r="1.08"/><circle cx="62.8" cy="264.8" r="1.08"/><circle cx="66.2" cy="264.1" r="1.08"/><circle cx="62.0" cy="267.0" r="1.08"/><circle cx="60.3" cy="270.3" r="1.08"/><circle cx="63.6" cy="270.8" r="1.08"/><circle cx="57.8" cy="274.1" r="1.08"/><circle cx="61.1" cy="274.8" r="1.08"/><circle cx="64.5" cy="274.1" r="1.08"/><circle cx="67.0" cy="274.8" r="1.08"/><circle cx="62.0" cy="277.0" r="1.08"/><circle cx="60.3" cy="279.8" r="1.08"/><circle cx="63.1" cy="280.8" r="1.08"/><circle cx="62.0" cy="283.7" r="1.08"/><circle cx="62.5" cy="286.2" r="1.08"/><circle cx="82.9" cy="199.4" r="1.08"/><circle cx="81.5" cy="209.9" r="1.08"/><circle cx="83.2" cy="211.1" r="1.08"/><circle cx="80.9" cy="224.5" r="1.08"/><circle cx="83.2" cy="224.5" r="1.08"/><circle cx="85.7" cy="224.5" r="1.08"/><circle cx="82.9" cy="228.3" r="1.08"/><circle cx="82.9" cy="233.7" r="1.08"/><circle cx="82.9" cy="237.7" r="1.08"/><circle cx="79.5" cy="241.9" r="1.08"/><circle cx="82.9" cy="243.0" r="1.08"/><circle cx="85.4" cy="242.4" r="1.08"/><circle cx="81.2" cy="246.4" r="1.08"/><circle cx="84.6" cy="246.7" r="1.08"/><circle cx="80.4" cy="250.2" r="1.08"/><circle cx="83.7" cy="251.4" r="1.08"/><circle cx="86.2" cy="250.2" r="1.08"/><circle cx="82.0" cy="256.9" r="1.08"/><circle cx="85.4" cy="257.4" r="1.08"/><circle cx="82.0" cy="261.1" r="1.08"/><circle cx="85.4" cy="261.9" r="1.08"/><circle cx="81.2" cy="263.6" r="1.08"/><circle cx="84.6" cy="264.1" r="1.08"/><circle cx="81.2" cy="271.5" r="1.08"/><circle cx="84.6" cy="271.1" r="1.08"/><circle cx="81.2" cy="275.3" r="1.08"/><circle cx="85.4" cy="275.8" r="1.08"/><circle cx="83.7" cy="277.5" r="1.08"/><circle cx="103.8" cy="224.5" r="1.08"/><circle cx="103.8" cy="233.7" r="1.08"/><circle cx="102.1" cy="241.9" r="1.08"/><circle cx="105.0" cy="242.4" r="1.08"/><circle cx="102.1" cy="247.4" r="1.08"/><circle cx="105.5" cy="248.0" r="1.08"/><circle cx="103.3" cy="251.1" r="1.08"/><circle cx="103.3" cy="260.8" r="1.08"/><circle cx="103.3" cy="271.5" r="1.08"/><circle cx="124.3" cy="199.4" r="1.08"/><circle cx="124.3" cy="210.4" r="1.08"/><circle cx="123.8" cy="224.5" r="1.08"/><circle cx="126.5" cy="224.5" r="1.08"/><circle cx="124.3" cy="228.3" r="1.08"/><circle cx="125.1" cy="237.7" r="1.08"/><circle cx="126.8" cy="236.8" r="1.08"/><circle cx="122.6" cy="241.9" r="1.08"/><circle cx="125.1" cy="243.0" r="1.08"/><circle cx="124.3" cy="246.4" r="1.08"/><circle cx="122.6" cy="249.7" r="1.08"/><circle cx="125.1" cy="250.6" r="1.08"/><circle cx="124.3" cy="252.4" r="1.08"/><circle cx="124.3" cy="256.9" r="1.08"/><circle cx="124.3" cy="260.8" r="1.08"/><circle cx="123.4" cy="263.6" r="1.08"/><circle cx="126.5" cy="263.1" r="1.08"/><circle cx="122.6" cy="271.5" r="1.08"/><circle cx="124.8" cy="272.5" r="1.08"/><circle cx="123.8" cy="275.8" r="1.08"/><circle cx="126.8" cy="275.3" r="1.08"/><circle cx="144.7" cy="199.4" r="1.08"/><circle cx="143.5" cy="209.9" r="1.08"/><circle cx="144.9" cy="211.1" r="1.08"/><circle cx="142.7" cy="224.5" r="1.08"/><circle cx="144.9" cy="224.5" r="1.08"/><circle cx="147.2" cy="224.5" r="1.08"/><circle cx="144.7" cy="238.0" r="1.08"/><circle cx="144.7" cy="243.5" r="1.08"/><circle cx="144.7" cy="251.1" r="1.08"/><circle cx="144.7" cy="257.4" r="1.08"/><circle cx="144.7" cy="263.6" r="1.08"/><circle cx="145.2" cy="277.0" r="1.08"/><circle cx="147.7" cy="275.3" r="1.08"/><circle cx="165.6" cy="210.4" r="1.08"/><circle cx="165.6" cy="220.5" r="1.08"/><circle cx="165.6" cy="224.5" r="1.08"/><circle cx="168.1" cy="224.5" r="1.08"/><circle cx="165.6" cy="228.3" r="1.08"/><circle cx="165.6" cy="233.7" r="1.08"/><circle cx="165.6" cy="238.0" r="1.08"/><circle cx="163.6" cy="242.7" r="1.08"/><circle cx="166.1" cy="243.5" r="1.08"/><circle cx="168.6" cy="242.4" r="1.08"/><circle cx="163.9" cy="247.4" r="1.08"/><circle cx="166.6" cy="248.0" r="1.08"/><circle cx="165.3" cy="251.1" r="1.08"/><circle cx="164.4" cy="253.6" r="1.08"/><circle cx="167.8" cy="252.7" r="1.08"/><circle cx="163.6" cy="255.7" r="1.08"/><circle cx="166.6" cy="256.4" r="1.08"/><circle cx="163.9" cy="260.8" r="1.08"/><circle cx="166.6" cy="261.1" r="1.08"/><circle cx="163.6" cy="263.6" r="1.08"/><circle cx="166.9" cy="264.4" r="1.08"/><circle cx="165.6" cy="267.5" r="1.08"/><circle cx="164.4" cy="272.0" r="1.08"/><circle cx="167.8" cy="271.5" r="1.08"/><circle cx="161.1" cy="274.8" r="1.08"/><circle cx="163.6" cy="275.3" r="1.08"/><circle cx="166.1" cy="275.3" r="1.08"/><circle cx="168.6" cy="274.8" r="1.08"/><circle cx="171.1" cy="274.1" r="1.08"/><circle cx="167.8" cy="280.8" r="1.08"/><circle cx="165.6" cy="283.7" r="1.08"/><circle cx="186.3" cy="199.4" r="1.08"/><circle cx="186.3" cy="211.1" r="1.08"/><circle cx="186.3" cy="224.5" r="1.08"/><circle cx="185.9" cy="237.7" r="1.08"/><circle cx="185.9" cy="241.9" r="1.08"/><circle cx="185.9" cy="244.0" r="1.08"/><circle cx="188.4" cy="247.4" r="1.08"/><circle cx="185.9" cy="248.5" r="1.08"/><circle cx="184.3" cy="251.1" r="1.08"/><circle cx="186.8" cy="251.9" r="1.08"/><circle cx="185.1" cy="256.1" r="1.08"/><circle cx="188.4" cy="255.7" r="1.08"/><circle cx="191.0" cy="255.2" r="1.08"/><circle cx="181.8" cy="260.3" r="1.08"/><circle cx="185.1" cy="261.1" r="1.08"/><circle cx="188.4" cy="260.8" r="1.08"/><circle cx="184.3" cy="263.1" r="1.08"/><circle cx="187.6" cy="263.1" r="1.08"/><circle cx="191.0" cy="262.8" r="1.08"/><circle cx="181.4" cy="270.3" r="1.08"/><circle cx="184.3" cy="271.5" r="1.08"/><circle cx="186.8" cy="272.0" r="1.08"/><circle cx="189.3" cy="271.5" r="1.08"/><circle cx="186.8" cy="275.3" r="1.08"/><circle cx="188.4" cy="276.2" r="1.08"/><circle cx="185.9" cy="279.5" r="1.08"/><circle cx="185.9" cy="286.2" r="1.08"/><circle cx="206.8" cy="199.4" r="1.08"/><circle cx="206.8" cy="210.4" r="1.08"/><circle cx="206.8" cy="220.5" r="1.08"/><circle cx="204.3" cy="224.5" r="1.08"/><circle cx="206.8" cy="224.5" r="1.08"/><circle cx="206.8" cy="233.7" r="1.08"/><circle cx="201.8" cy="241.9" r="1.08"/><circle cx="205.2" cy="243.0" r="1.08"/><circle cx="209.4" cy="242.4" r="1.08"/><circle cx="208.5" cy="247.4" r="1.08"/><circle cx="204.3" cy="251.9" r="1.08"/><circle cx="207.7" cy="251.4" r="1.08"/><circle cx="202.7" cy="254.4" r="1.08"/><circle cx="205.2" cy="255.2" r="1.08"/><circle cx="207.7" cy="254.7" r="1.08"/><circle cx="210.2" cy="254.4" r="1.08"/><circle cx="201.8" cy="256.9" r="1.08"/><circle cx="205.2" cy="257.4" r="1.08"/><circle cx="208.5" cy="256.9" r="1.08"/><circle cx="204.3" cy="259.4" r="1.08"/><circle cx="207.7" cy="259.1" r="1.08"/><circle cx="211.0" cy="259.4" r="1.08"/><circle cx="202.7" cy="261.9" r="1.08"/><circle cx="205.2" cy="262.4" r="1.08"/><circle cx="208.5" cy="261.9" r="1.08"/><circle cx="211.9" cy="262.4" r="1.08"/><circle cx="205.2" cy="264.4" r="1.08"/><circle cx="208.5" cy="264.8" r="1.08"/><circle cx="206.8" cy="267.0" r="1.08"/><circle cx="206.8" cy="269.5" r="1.08"/><circle cx="205.2" cy="271.5" r="1.08"/><circle cx="207.7" cy="271.1" r="1.08"/><circle cx="210.2" cy="272.0" r="1.08"/><circle cx="201.8" cy="274.1" r="1.08"/><circle cx="204.3" cy="274.5" r="1.08"/><circle cx="206.8" cy="274.1" r="1.08"/><circle cx="209.4" cy="274.5" r="1.08"/><circle cx="211.9" cy="274.1" r="1.08"/><circle cx="206.8" cy="277.0" r="1.08"/><circle cx="205.2" cy="280.3" r="1.08"/><circle cx="207.7" cy="281.2" r="1.08"/><circle cx="206.8" cy="283.7" r="1.08"/><circle cx="206.8" cy="286.2" r="1.08"/><circle cx="227.4" cy="211.1" r="1.08"/><circle cx="227.4" cy="224.5" r="1.08"/><circle cx="227.4" cy="228.3" r="1.08"/><circle cx="227.8" cy="237.7" r="1.08"/><circle cx="230.3" cy="236.8" r="1.08"/><circle cx="227.4" cy="243.5" r="1.08"/><circle cx="226.1" cy="247.7" r="1.08"/><circle cx="229.4" cy="247.4" r="1.08"/><circle cx="227.4" cy="249.7" r="1.08"/><circle cx="227.4" cy="256.9" r="1.08"/><circle cx="225.3" cy="260.8" r="1.08"/><circle cx="228.3" cy="261.9" r="1.08"/><circle cx="226.1" cy="263.6" r="1.08"/><circle cx="229.4" cy="262.8" r="1.08"/><circle cx="227.4" cy="271.5" r="1.08"/><circle cx="225.3" cy="275.3" r="1.08"/><circle cx="229.4" cy="275.3" r="1.08"/><circle cx="227.4" cy="277.0" r="1.08"/><circle cx="38.2" cy="265.9" r="1.0"/><circle cx="40.5" cy="265.9" r="1.0"/><circle cx="42.9" cy="266.0" r="1.0"/><circle cx="45.8" cy="265.9" r="1.0"/><circle cx="36.6" cy="268.0" r="1.0"/><circle cx="39.3" cy="268.3" r="1.0"/><circle cx="42.1" cy="268.1" r="1.0"/><circle cx="44.6" cy="268.3" r="1.0"/><circle cx="46.9" cy="268.1" r="1.0"/><circle cx="36.9" cy="270.5" r="1.0"/><circle cx="39.4" cy="270.5" r="1.0"/><circle cx="41.9" cy="270.2" r="1.0"/><circle cx="44.4" cy="270.5" r="1.0"/><circle cx="46.6" cy="270.4" r="1.0"/><circle cx="36.9" cy="272.8" r="1.0"/><circle cx="39.7" cy="272.5" r="1.0"/><circle cx="42.1" cy="272.8" r="1.0"/><circle cx="44.3" cy="272.6" r="1.0"/><circle cx="46.7" cy="272.8" r="1.0"/><circle cx="37.0" cy="275.0" r="1.0"/><circle cx="39.6" cy="274.9" r="1.0"/><circle cx="42.0" cy="274.8" r="1.0"/><circle cx="44.2" cy="274.9" r="1.0"/><circle cx="46.6" cy="274.6" r="1.0"/><circle cx="37.1" cy="276.7" r="1.0"/><circle cx="39.2" cy="276.8" r="1.0"/><circle cx="42.1" cy="276.8" r="1.0"/><circle cx="44.1" cy="277.2" r="1.0"/><circle cx="46.7" cy="277.2" r="1.0"/><circle cx="38.3" cy="279.4" r="1.0"/><circle cx="40.9" cy="279.2" r="1.0"/><circle cx="43.3" cy="278.9" r="1.0"/><circle cx="45.8" cy="279.2" r="1.0"/>
</g>
<g>
<text class="pl" x="262" y="181">D</text>
<text class="yb" style="letter-spacing:0.45px" transform="translate(273.7 232) rotate(-90)">P-s<tspan dx="1.5">electin (% )</tspan></text>
<path class="ax" d="M292.7 185.2V231.2"/>
<path class="ax" d="M292.7 237.8V291.1H518.5"/>
<path class="ax" d="M290.5 185.8H292.7"/>
<text class="tk" style="font-size:8.5px" x="289.7" y="188.9">20</text>
<path class="ax" d="M290.5 208.7H292.7"/>
<text class="tk" style="font-size:8.5px" x="289.7" y="211.8">12</text>
<path class="ax" d="M290.7 231.2H294.9"/>
<text class="tk" style="font-size:8.5px" x="289.7" y="234.3">4</text>
<path class="ax" d="M290.7 237.8H294.9"/>
<text class="tk" style="font-size:8.5px" x="289.7" y="240.9">4</text>
<path class="ax" d="M290.5 264.5H292.7"/>
<text class="tk" style="font-size:8.5px" x="289.7" y="267.6">2</text>
<path class="ax" d="M290.5 291.1H292.7"/>
<text class="tk" style="font-size:8.5px" x="289.7" y="294.2">0</text>
<text class="xl" style="font-size:11.8px" transform="translate(309.1 302.8) rotate(-45)">HC</text>
<text class="xl" style="font-size:11.8px" transform="translate(330.8 302.8) rotate(-45)">VD-</text>
<text class="xl" style="font-size:11.8px" transform="translate(352.5 302.8) rotate(-45)">VD+</text>
<text class="xl" style="font-size:11.8px" transform="translate(374.0 302.8) rotate(-45)">MI+</text>
<text class="xl" style="font-size:11.8px" transform="translate(396.1 302.8) rotate(-45)">Ven.+</text>
<text class="xl" style="font-size:11.8px" transform="translate(418.0 302.8) rotate(-45)">Art.+</text>
<text class="xl" style="font-size:11.8px" transform="translate(439.8 302.8) rotate(-45)">aCL-</text>
<text class="xl" style="font-size:11.8px" transform="translate(461.8 302.8) rotate(-45)">aCL+</text>
<text class="xl" style="font-size:11.8px" transform="translate(483.9 302.8) rotate(-45)">APS-</text>
<text class="xl" style="font-size:11.8px" transform="translate(505.6 302.8) rotate(-45)">APS+</text>
<text class="st" x="349.6" y="177.6">*</text>
<text class="st" x="416.2" y="177.6">*</text>
<path class="md" d="M300.4 276.5H314.8"/>
<path class="md" d="M322.6 279.5H336.5"/>
<path class="md" d="M343.9 272.5H357.8"/>
<path class="md" d="M365.0 279.5H379.7"/>
<path class="md" d="M387.6 274.5H401.5"/>
<path class="md" d="M409.4 273.5H423.6"/>
<path class="md" d="M431.6 278.5H445.0"/>
<path class="md" d="M453.4 276.5H467.3"/>
<path class="md" d="M475.2 278.5H489.0"/>
<path class="md" d="M497.4 277.5H510.8"/>
<circle cx="351.5" cy="203.2" r="1.2"/><circle cx="394.4" cy="203.2" r="1.2"/><circle cx="438.2" cy="203.2" r="1.2"/><circle cx="504.2" cy="203.2" r="1.2"/><circle cx="307.4" cy="254.7" r="1.2"/><circle cx="305" cy="262" r="1.2"/><circle cx="308" cy="261.7" r="1.2"/><circle cx="310.5" cy="262.1" r="1.2"/><circle cx="301.9" cy="265.4" r="1.2"/><circle cx="307.4" cy="264.8" r="1.2"/><circle cx="313.5" cy="265.7" r="1.2"/><circle cx="301.2" cy="268.5" r="1.2"/><circle cx="304.3" cy="267.9" r="1.2"/><circle cx="308.6" cy="268.5" r="1.2"/><circle cx="311.7" cy="269" r="1.2"/><circle cx="306.3" cy="270.2" r="1.2"/><circle cx="304.5" cy="284.9" r="1.2"/><circle cx="310.3" cy="285.2" r="1.2"/><circle cx="307.4" cy="287.2" r="1.2"/><circle cx="302.5" cy="284" r="1.2"/><circle cx="312.5" cy="283.8" r="1.2"/><circle cx="329.3" cy="248.0" r="1.2"/><circle cx="329.3" cy="255.1" r="1.2"/><circle cx="329.3" cy="262.3" r="1.2"/><circle cx="327.6" cy="268.1" r="1.2"/><circle cx="330.2" cy="269.0" r="1.2"/><circle cx="324.3" cy="272.3" r="1.2"/><circle cx="327.6" cy="271.5" r="1.2"/><circle cx="331.0" cy="272.8" r="1.2"/><circle cx="334.3" cy="272.3" r="1.2"/><circle cx="326.0" cy="275.1" r="1.2"/><circle cx="329.3" cy="275.6" r="1.2"/><circle cx="332.7" cy="274.8" r="1.2"/><circle cx="323.5" cy="278.2" r="1.2"/><circle cx="326.8" cy="278.5" r="1.2"/><circle cx="330.2" cy="277.8" r="1.2"/><circle cx="333.2" cy="278.5" r="1.2"/><circle cx="335.5" cy="277.8" r="1.2"/><circle cx="324.3" cy="281.2" r="1.2"/><circle cx="327.6" cy="281.5" r="1.2"/><circle cx="331.0" cy="281.2" r="1.2"/><circle cx="334.3" cy="281.8" r="1.2"/><circle cx="324.3" cy="284.5" r="1.2"/><circle cx="327.6" cy="284.8" r="1.2"/><circle cx="331.0" cy="284.5" r="1.2"/><circle cx="333.8" cy="284.5" r="1.2"/><circle cx="329.3" cy="288.2" r="1.2"/><circle cx="351.6" cy="259.8" r="1.2"/><circle cx="348.6" cy="263.9" r="1.2"/><circle cx="351.6" cy="264.8" r="1.2"/><circle cx="346.0" cy="267.3" r="1.2"/><circle cx="349.4" cy="267.8" r="1.2"/><circle cx="352.7" cy="268.1" r="1.2"/><circle cx="356.1" cy="267.3" r="1.2"/><circle cx="348.6" cy="270.1" r="1.2"/><circle cx="351.9" cy="270.6" r="1.2"/><circle cx="346.0" cy="273.1" r="1.2"/><circle cx="349.4" cy="273.5" r="1.2"/><circle cx="352.7" cy="273.1" r="1.2"/><circle cx="356.1" cy="272.8" r="1.2"/><circle cx="347.7" cy="276.1" r="1.2"/><circle cx="351.1" cy="276.5" r="1.2"/><circle cx="354.4" cy="276.1" r="1.2"/><circle cx="346.0" cy="279.0" r="1.2"/><circle cx="349.4" cy="279.5" r="1.2"/><circle cx="352.7" cy="279.0" r="1.2"/><circle cx="356.1" cy="278.5" r="1.2"/><circle cx="347.7" cy="281.8" r="1.2"/><circle cx="351.1" cy="282.3" r="1.2"/><circle cx="354.4" cy="281.8" r="1.2"/><circle cx="348.6" cy="284.8" r="1.2"/><circle cx="351.9" cy="285.2" r="1.2"/><circle cx="354.4" cy="284.5" r="1.2"/><circle cx="372.5" cy="271.1" r="1.2"/><circle cx="370.0" cy="274.0" r="1.2"/><circle cx="373.4" cy="274.5" r="1.2"/><circle cx="375.9" cy="273.5" r="1.2"/><circle cx="371.7" cy="276.8" r="1.2"/><circle cx="374.7" cy="277.3" r="1.2"/><circle cx="370.4" cy="280.7" r="1.2"/><circle cx="373.4" cy="281.2" r="1.2"/><circle cx="375.9" cy="280.2" r="1.2"/><circle cx="370.9" cy="283.2" r="1.2"/><circle cx="374.7" cy="282.8" r="1.2"/><circle cx="372.5" cy="285.7" r="1.2"/><circle cx="394.6" cy="259.8" r="1.2"/><circle cx="394.6" cy="263.9" r="1.2"/><circle cx="393.5" cy="266.8" r="1.2"/><circle cx="396.8" cy="266.4" r="1.2"/><circle cx="391.8" cy="269.8" r="1.2"/><circle cx="395.1" cy="269.0" r="1.2"/><circle cx="398.5" cy="270.6" r="1.2"/><circle cx="390.1" cy="272.3" r="1.2"/><circle cx="393.5" cy="272.8" r="1.2"/><circle cx="396.8" cy="272.3" r="1.2"/><circle cx="400.2" cy="271.8" r="1.2"/><circle cx="391.8" cy="275.6" r="1.2"/><circle cx="395.1" cy="275.1" r="1.2"/><circle cx="398.1" cy="276.1" r="1.2"/><circle cx="392.6" cy="278.2" r="1.2"/><circle cx="396.0" cy="278.5" r="1.2"/><circle cx="399.3" cy="277.8" r="1.2"/><circle cx="392.6" cy="281.2" r="1.2"/><circle cx="396.0" cy="281.5" r="1.2"/><circle cx="393.5" cy="283.5" r="1.2"/><circle cx="393.5" cy="285.7" r="1.2"/><circle cx="396.8" cy="286.2" r="1.2"/><circle cx="416.9" cy="264.8" r="1.2"/><circle cx="411.9" cy="268.1" r="1.2"/><circle cx="414.4" cy="269.0" r="1.2"/><circle cx="416.9" cy="268.5" r="1.2"/><circle cx="419.4" cy="269.0" r="1.2"/><circle cx="414.4" cy="271.5" r="1.2"/><circle cx="417.7" cy="271.1" r="1.2"/><circle cx="415.2" cy="275.6" r="1.2"/><circle cx="418.6" cy="276.1" r="1.2"/><circle cx="421.1" cy="275.1" r="1.2"/><circle cx="414.4" cy="278.2" r="1.2"/><circle cx="417.7" cy="277.8" r="1.2"/><circle cx="420.2" cy="278.5" r="1.2"/><circle cx="416.9" cy="280.2" r="1.2"/><circle cx="438.3" cy="248.0" r="1.2"/><circle cx="438.3" cy="255.1" r="1.2"/><circle cx="438.3" cy="259.8" r="1.2"/><circle cx="436.1" cy="262.3" r="1.2"/><circle cx="439.0" cy="263.1" r="1.2"/><circle cx="433.6" cy="268.5" r="1.2"/><circle cx="436.1" cy="269.0" r="1.2"/><circle cx="439.0" cy="268.5" r="1.2"/><circle cx="441.5" cy="269.0" r="1.2"/><circle cx="443.7" cy="268.5" r="1.2"/><circle cx="438.3" cy="271.5" r="1.2"/><circle cx="436.1" cy="273.5" r="1.2"/><circle cx="439.5" cy="274.0" r="1.2"/><circle cx="437.8" cy="276.1" r="1.2"/><circle cx="431.9" cy="278.2" r="1.2"/><circle cx="435.0" cy="278.5" r="1.2"/><circle cx="437.8" cy="278.2" r="1.2"/><circle cx="440.6" cy="278.5" r="1.2"/><circle cx="443.7" cy="278.2" r="1.2"/><circle cx="433.6" cy="280.7" r="1.2"/><circle cx="436.6" cy="281.2" r="1.2"/><circle cx="439.5" cy="280.7" r="1.2"/><circle cx="442.3" cy="281.2" r="1.2"/><circle cx="434.5" cy="283.2" r="1.2"/><circle cx="437.3" cy="283.5" r="1.2"/><circle cx="440.3" cy="283.2" r="1.2"/><circle cx="442.8" cy="283.5" r="1.2"/><circle cx="436.1" cy="285.7" r="1.2"/><circle cx="439.0" cy="286.2" r="1.2"/><circle cx="438.3" cy="288.2" r="1.2"/><circle cx="438.3" cy="290.2" r="1.2"/><circle cx="458.1" cy="264.8" r="1.2"/><circle cx="460.6" cy="266.8" r="1.2"/><circle cx="463.1" cy="266.4" r="1.2"/><circle cx="458.1" cy="270.6" r="1.2"/><circle cx="460.6" cy="271.1" r="1.2"/><circle cx="463.5" cy="270.6" r="1.2"/><circle cx="455.6" cy="272.8" r="1.2"/><circle cx="458.9" cy="273.1" r="1.2"/><circle cx="461.4" cy="272.8" r="1.2"/><circle cx="464.8" cy="273.5" r="1.2"/><circle cx="454.4" cy="276.1" r="1.2"/><circle cx="457.3" cy="275.6" r="1.2"/><circle cx="460.3" cy="276.1" r="1.2"/><circle cx="463.1" cy="275.6" r="1.2"/><circle cx="466.1" cy="276.1" r="1.2"/><circle cx="455.6" cy="278.5" r="1.2"/><circle cx="458.9" cy="279.0" r="1.2"/><circle cx="461.8" cy="278.5" r="1.2"/><circle cx="465.1" cy="279.0" r="1.2"/><circle cx="457.3" cy="281.2" r="1.2"/><circle cx="460.3" cy="281.8" r="1.2"/><circle cx="463.5" cy="281.2" r="1.2"/><circle cx="458.1" cy="284.5" r="1.2"/><circle cx="461.4" cy="285.7" r="1.2"/><circle cx="464.8" cy="283.5" r="1.2"/><circle cx="482.4" cy="248.0" r="1.2"/><circle cx="482.4" cy="255.1" r="1.2"/><circle cx="479.8" cy="259.8" r="1.2"/><circle cx="482.4" cy="262.3" r="1.2"/><circle cx="482.4" cy="265.6" r="1.2"/><circle cx="477.3" cy="268.5" r="1.2"/><circle cx="480.7" cy="268.1" r="1.2"/><circle cx="484.0" cy="267.8" r="1.2"/><circle cx="487.4" cy="268.5" r="1.2"/><circle cx="478.2" cy="271.1" r="1.2"/><circle cx="481.5" cy="270.6" r="1.2"/><circle cx="484.9" cy="271.1" r="1.2"/><circle cx="476.5" cy="273.5" r="1.2"/><circle cx="479.8" cy="273.1" r="1.2"/><circle cx="483.2" cy="273.5" r="1.2"/><circle cx="486.5" cy="273.1" r="1.2"/><circle cx="478.2" cy="276.1" r="1.2"/><circle cx="481.5" cy="275.6" r="1.2"/><circle cx="484.9" cy="276.1" r="1.2"/><circle cx="475.7" cy="278.5" r="1.2"/><circle cx="479.0" cy="278.2" r="1.2"/><circle cx="482.4" cy="278.5" r="1.2"/><circle cx="485.7" cy="278.2" r="1.2"/><circle cx="488.2" cy="278.5" r="1.2"/><circle cx="477.3" cy="281.2" r="1.2"/><circle cx="480.7" cy="280.7" r="1.2"/><circle cx="484.0" cy="281.2" r="1.2"/><circle cx="486.9" cy="280.7" r="1.2"/><circle cx="476.5" cy="283.5" r="1.2"/><circle cx="479.8" cy="283.2" r="1.2"/><circle cx="483.2" cy="283.5" r="1.2"/><circle cx="486.2" cy="283.2" r="1.2"/><circle cx="478.2" cy="285.7" r="1.2"/><circle cx="481.5" cy="285.2" r="1.2"/><circle cx="484.9" cy="285.7" r="1.2"/><circle cx="482.4" cy="288.2" r="1.2"/><circle cx="482.4" cy="290.2" r="1.2"/><circle cx="501.6" cy="263.9" r="1.2"/><circle cx="506.6" cy="264.4" r="1.2"/><circle cx="504.1" cy="266.8" r="1.2"/><circle cx="499.9" cy="271.5" r="1.2"/><circle cx="503.3" cy="272.8" r="1.2"/><circle cx="506.6" cy="271.5" r="1.2"/><circle cx="501.6" cy="275.1" r="1.2"/><circle cx="504.9" cy="275.6" r="1.2"/><circle cx="499.1" cy="277.3" r="1.2"/><circle cx="502.4" cy="277.8" r="1.2"/><circle cx="505.8" cy="277.3" r="1.2"/><circle cx="509.1" cy="277.8" r="1.2"/><circle cx="500.8" cy="279.8" r="1.2"/><circle cx="504.1" cy="280.2" r="1.2"/><circle cx="507.5" cy="279.5" r="1.2"/><circle cx="502.4" cy="282.3" r="1.2"/><circle cx="505.8" cy="281.8" r="1.2"/><circle cx="504.1" cy="285.7" r="1.2"/><circle cx="506.6" cy="284.5" r="1.2"/><circle cx="301.5" cy="271.2" r="1.2"/><circle cx="304.0" cy="271.7" r="1.2"/><circle cx="306.0" cy="271.3" r="1.2"/><circle cx="308.8" cy="271.6" r="1.2"/><circle cx="311.0" cy="271.2" r="1.2"/><circle cx="313.5" cy="271.5" r="1.2"/><circle cx="301.5" cy="273.4" r="1.2"/><circle cx="303.7" cy="273.4" r="1.2"/><circle cx="306.2" cy="273.5" r="1.2"/><circle cx="308.5" cy="273.5" r="1.2"/><circle cx="311.5" cy="273.4" r="1.2"/><circle cx="313.8" cy="273.3" r="1.2"/><circle cx="301.5" cy="275.8" r="1.2"/><circle cx="303.9" cy="275.6" r="1.2"/><circle cx="306.3" cy="275.7" r="1.2"/><circle cx="309.0" cy="275.4" r="1.2"/><circle cx="310.9" cy="275.7" r="1.2"/><circle cx="313.9" cy="275.6" r="1.2"/><circle cx="301.3" cy="277.8" r="1.2"/><circle cx="303.6" cy="277.6" r="1.2"/><circle cx="306.1" cy="277.8" r="1.2"/><circle cx="308.6" cy="277.5" r="1.2"/><circle cx="311.3" cy="278.0" r="1.2"/><circle cx="313.5" cy="277.8" r="1.2"/><circle cx="301.3" cy="280.0" r="1.2"/><circle cx="303.9" cy="279.7" r="1.2"/><circle cx="306.1" cy="279.5" r="1.2"/><circle cx="308.7" cy="279.7" r="1.2"/><circle cx="311.0" cy="279.7" r="1.2"/><circle cx="313.5" cy="280.0" r="1.2"/><circle cx="301.2" cy="282.2" r="1.2"/><circle cx="303.8" cy="282.0" r="1.2"/><circle cx="306.3" cy="282.1" r="1.2"/><circle cx="308.9" cy="281.9" r="1.2"/><circle cx="311.2" cy="282.0" r="1.2"/><circle cx="313.8" cy="281.8" r="1.2"/>
</g>
</svg></body></html>
